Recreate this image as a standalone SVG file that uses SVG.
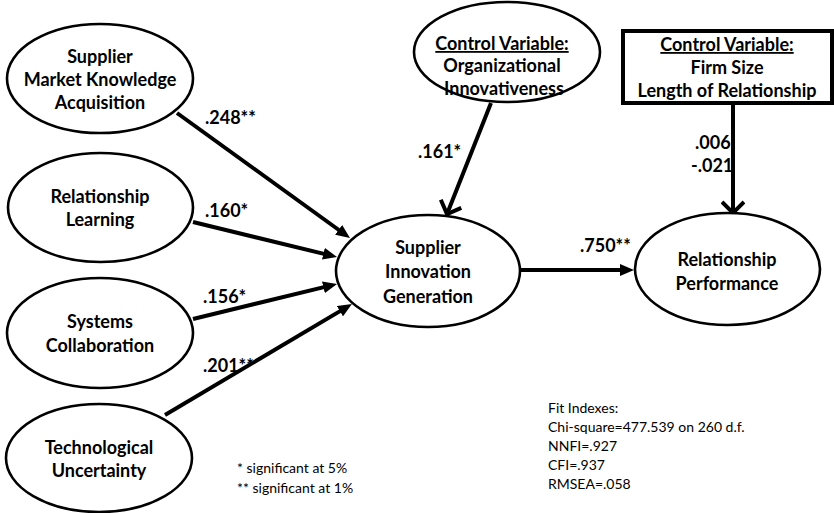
<svg xmlns="http://www.w3.org/2000/svg" width="834" height="513" viewBox="0 0 834 513">
<defs>
<style>
.node ellipse{fill:#fff;stroke:#000;stroke-width:2.6}
.box{fill:#fff;stroke:#000;stroke-width:4}
.t{font-family:Lato,"Liberation Sans",sans-serif;font-weight:bold;font-size:18px;text-anchor:middle;fill:#000}
.lbl{font-family:Lato,"Liberation Sans",sans-serif;font-weight:bold;font-size:18px;fill:#000}
.note{font-family:Lato,"Liberation Sans",sans-serif;font-size:14px;fill:#000}
.u{text-decoration:underline}
.c line{stroke:#000;stroke-width:4}
</style>
<marker id="tri" markerUnits="userSpaceOnUse" markerWidth="14" markerHeight="12" refX="8" refY="6" orient="auto">
<path d="M0,0 L14,6 L0,12 z" fill="#000"/>
</marker>
<marker id="chev" markerUnits="userSpaceOnUse" markerWidth="16" markerHeight="24" refX="13" refY="12" orient="auto">
<path d="M2,1 L13,12 L2,23" fill="none" stroke="#000" stroke-width="4"/>
</marker>
</defs>
<rect width="834" height="513" fill="#fff"/>

<g id="connectors" class="c">
<line x1="177" y1="113" x2="345.1" y2="234.5" marker-end="url(#tri)"/>
<line x1="193" y1="222" x2="331.2" y2="255.6" marker-end="url(#tri)"/>
<line x1="193" y1="319" x2="331.2" y2="285.4" marker-end="url(#tri)"/>
<line x1="165" y1="415" x2="346.8" y2="307.1" marker-end="url(#tri)"/>
<line x1="520" y1="270" x2="628" y2="270" marker-end="url(#tri)"/>
<line x1="491" y1="103" x2="447" y2="214" marker-end="url(#chev)"/>
<line x1="733" y1="103" x2="733" y2="213" marker-end="url(#chev)"/>
</g>

<g id="labels">
<text class="lbl" x="205" y="124">.248**</text>
<text class="lbl" x="205" y="217">.160*</text>
<text class="lbl" x="203" y="303">.156*</text>
<text class="lbl" x="203" y="372">.201**</text>
<text class="lbl" x="418" y="158">.161*</text>
<text class="lbl" x="580" y="252">.750**</text>
<text class="lbl" x="695" y="149">.006</text>
<text class="lbl" x="691" y="172">-.021</text>
</g>

<g id="n-smka" class="node">
<ellipse cx="100" cy="78.5" rx="93" ry="54.5"/>
<text class="t" x="100" y="63">Supplier</text>
<text class="t" x="100" y="86">Market Knowledge</text>
<text class="t" x="100" y="109">Acquisition</text>
</g>
<g id="n-rl" class="node">
<ellipse cx="100.5" cy="207.5" rx="92.5" ry="54.5"/>
<text class="t" x="100" y="203">Relationship</text>
<text class="t" x="100" y="226">Learning</text>
</g>
<g id="n-sc" class="node">
<ellipse cx="100" cy="333" rx="93" ry="55"/>
<text class="t" x="100" y="328">Systems</text>
<text class="t" x="100" y="352">Collaboration</text>
</g>
<g id="n-tu" class="node">
<ellipse cx="99" cy="458" rx="93" ry="54"/>
<text class="t" x="99" y="454">Technological</text>
<text class="t" x="99" y="477">Uncertainty</text>
</g>
<g id="n-sig" class="node">
<ellipse cx="428" cy="271" rx="92" ry="56"/>
<text class="t" x="428" y="254">Supplier</text>
<text class="t" x="428" y="278">Innovation</text>
<text class="t" x="428" y="303">Generation</text>
</g>
<g id="n-rp" class="node">
<ellipse cx="727.5" cy="269" rx="92.5" ry="56"/>
<text class="t" x="727" y="266">Relationship</text>
<text class="t" x="727" y="290">Performance</text>
</g>
<g id="n-oi" class="node">
<ellipse cx="507" cy="52" rx="93" ry="50"/>
<text class="t u" x="502" y="50">Control Variable:</text>
<text class="t" x="502" y="72">Organizational</text>
<text class="t" x="504" y="95">Innovativeness</text>
</g>
<g id="n-fs">
<rect class="box" x="623" y="31" width="209" height="72"/>
<text class="t u" x="727" y="51">Control Variable:</text>
<text class="t" x="727" y="74">Firm Size</text>
<text class="t" x="727" y="97">Length of Relationship</text>
</g>

<g id="legend">
<text class="note" x="237" y="473">* significant at 5%</text>
<text class="note" x="237" y="493">** significant at 1%</text>
</g>
<g id="fit">
<text class="note" x="548" y="413">Fit Indexes:</text>
<text class="note" x="548" y="432">Chi-square=477.539 on 260 d.f.</text>
<text class="note" x="548" y="451">NNFI=.927</text>
<text class="note" x="548" y="470">CFI=.937</text>
<text class="note" x="548" y="489">RMSEA=.058</text>
</g>
</svg>
